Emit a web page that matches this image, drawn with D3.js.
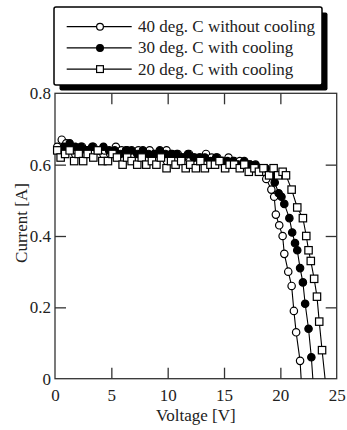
<!DOCTYPE html>
<html>
<head>
    <meta charset="utf-8">
    <script src="https://cdn.jsdelivr.net/npm/d3@7"></script>
    <style>
        body { margin: 0; background: #fff; }
        .chart text { font-family: "Liberation Serif", "Times New Roman", serif; font-size: 17px; fill: #222; }
        .axis path { display: none; }
        .axis line { stroke: #333; stroke-width: 1.3; }
    </style>
</head>
<body>
<svg class="chart"></svg>
<script>
    // 40 deg. C without cooling (open circles)
    var v40 = [0.2, 0.6, 1.0, 1.4, 1.9, 2.4, 2.9, 3.4, 3.9, 4.4, 4.9, 5.4, 5.9, 6.4, 6.9, 7.4, 7.9, 8.4, 8.9, 9.4,
        9.9, 10.4, 10.9, 11.4, 11.9, 12.4, 12.9, 13.4, 13.9, 14.4, 14.9, 15.4, 15.9, 16.4, 16.9, 17.3, 17.7, 18.1, 18.5, 18.75,
        19.2, 19.45, 19.6, 19.9, 20.2, 20.35, 20.7, 21.0, 21.2, 21.4, 21.75, 21.9];
    var i40 = [0.65, 0.67, 0.66, 0.65, 0.64, 0.65, 0.64, 0.65, 0.64, 0.64, 0.63, 0.65, 0.64, 0.64, 0.63, 0.64, 0.63, 0.64, 0.63, 0.63,
        0.64, 0.63, 0.63, 0.62, 0.63, 0.62, 0.62, 0.63, 0.62, 0.62, 0.61, 0.62, 0.61, 0.61, 0.60, 0.60, 0.59, 0.59, 0.58, 0.56,
        0.53, 0.51, 0.46, 0.43, 0.40, 0.35, 0.30, 0.26, 0.19, 0.13, 0.05, -0.03];

    // 30 deg. C with cooling (filled circles)
    var v30 = [0.3, 0.8, 1.3, 1.8, 2.3, 2.8, 3.3, 3.8, 4.3, 4.8, 5.3, 5.8, 6.3, 6.8, 7.3, 7.8, 8.3, 8.8, 9.3, 9.8,
        10.3, 10.8, 11.3, 11.8, 12.3, 12.8, 13.3, 13.8, 14.3, 14.8, 15.3, 15.8, 16.3, 16.8, 17.3, 17.8, 18.3, 18.7, 19.2, 19.5,
        19.85, 20.1, 20.35, 20.8, 21.05, 21.3, 21.5, 21.75, 22.0, 22.2, 22.5, 22.75, 22.95];
    var i30 = [0.64, 0.65, 0.66, 0.65, 0.65, 0.64, 0.65, 0.64, 0.65, 0.64, 0.64, 0.63, 0.64, 0.64, 0.63, 0.64, 0.63, 0.63, 0.64, 0.63,
        0.63, 0.63, 0.62, 0.63, 0.62, 0.62, 0.62, 0.61, 0.62, 0.61, 0.61, 0.61, 0.60, 0.61, 0.60, 0.60, 0.59, 0.59, 0.57, 0.55,
        0.52, 0.51, 0.49, 0.45, 0.41, 0.38, 0.36, 0.31, 0.27, 0.21, 0.14, 0.06, -0.03];

    // 20 deg. C with cooling (open squares)
    var v20 = [0.2, 0.5, 0.9, 1.3, 1.7, 2.1, 2.5, 2.9, 3.4, 3.8, 4.2, 4.7, 5.1, 5.5, 6.0, 6.4, 6.8, 7.3, 7.7, 8.1,
        8.6, 9.0, 9.4, 9.9, 10.3, 10.7, 11.2, 11.6, 12.0, 12.5, 12.9, 13.3, 13.8, 14.2, 14.6, 15.1, 15.5, 15.9, 16.4, 16.8,
        17.2, 17.7, 18.1, 18.5, 19.0, 19.4, 19.8, 20.2, 20.5, 21.0, 21.5, 22.0, 22.3, 22.5, 22.7, 23.0, 23.25, 23.45, 23.7, 24.1];
    var i20 = [0.64, 0.62, 0.63, 0.64, 0.61, 0.63, 0.61, 0.63, 0.62, 0.64, 0.61, 0.61, 0.63, 0.62, 0.60, 0.62, 0.61, 0.60, 0.62, 0.60,
        0.61, 0.60, 0.62, 0.59, 0.61, 0.60, 0.61, 0.59, 0.60, 0.59, 0.61, 0.59, 0.60, 0.60, 0.61, 0.59, 0.60, 0.60, 0.59, 0.60,
        0.58, 0.59, 0.58, 0.59, 0.57, 0.59, 0.57, 0.58, 0.57, 0.53, 0.48, 0.45, 0.40, 0.36, 0.33, 0.28, 0.23, 0.16, 0.08, -0.04];

    var seriesNames = ["40 deg. C without cooling", "30 deg. C with cooling", "20 deg. C with cooling"];
    var xTicks = [0, 5, 10, 15, 20, 25];
    var yTicks = [0, 0.2, 0.4, 0.6, 0.8];

    var width = 347, height = 430;
    var plotLeft = 55, plotRight = 336.7, plotTop = 93.3, plotBottom = 378.7;
    var tickLen = 11;
    var markR = 3.7;

    var series = [
        { name: seriesNames[0], v: v40, i: i40, shape: "circle", fill: "#fff" },
        { name: seriesNames[1], v: v30, i: i30, shape: "circle", fill: "#000" },
        { name: seriesNames[2], v: v20, i: i20, shape: "square", fill: "#fff" }
    ];

    var x = d3.scaleLinear().domain([0, 25]).range([plotLeft, plotRight]);
    var y = d3.scaleLinear().domain([0, 0.8]).range([plotBottom, plotTop]);

    var chart = d3.select(".chart").attr("width", width).attr("height", height);

    chart.append("defs").append("clipPath").attr("id", "clip")
        .append("rect").attr("x", 0).attr("y", 0).attr("width", width).attr("height", plotBottom);

    // axes, ticks pointing inward
    chart.append("g").attr("class", "axis")
        .attr("transform", "translate(0," + plotBottom + ")")
        .call(d3.axisBottom(x).tickValues(xTicks).tickSize(-tickLen).tickPadding(10).tickFormat(d3.format("d")))
        .selectAll("line").filter(function(d) { return d === 0 || d === 25; }).remove();
    chart.append("g").attr("class", "axis")
        .attr("transform", "translate(0," + plotTop + ")")
        .call(d3.axisTop(x).tickValues([5, 10, 15, 20]).tickSize(-tickLen).tickFormat(""));
    chart.append("g").attr("class", "axis")
        .attr("transform", "translate(" + plotLeft + ",0)")
        .call(d3.axisLeft(y).tickValues(yTicks).tickSize(-tickLen).tickPadding(4)
            .tickFormat(function(d) { return d === 0 ? "0" : d3.format(".1f")(d); }))
        .selectAll("line").filter(function(d) { return d === 0 || d === 0.8; }).remove();
    chart.append("g").attr("class", "axis")
        .attr("transform", "translate(" + plotRight + ",0)")
        .call(d3.axisRight(y).tickValues([0.2, 0.4, 0.6]).tickSize(-tickLen).tickFormat(""));

    chart.append("rect")
        .attr("x", plotLeft).attr("y", plotTop)
        .attr("width", plotRight - plotLeft).attr("height", plotBottom - plotTop)
        .attr("fill", "none").attr("stroke", "#333").attr("stroke-width", 1.3);

    // data
    var plot = chart.append("g").attr("clip-path", "url(#clip)");
    var line = d3.line()
        .x(function(d) { return x(d[0]); })
        .y(function(d) { return y(d[1]); });

    series.forEach(function(s) {
        var pts = s.v.map(function(v, k) { return [v, s.i[k]]; });
        var g = plot.append("g");
        g.append("path").datum(pts).attr("d", line)
            .attr("fill", "none").attr("stroke", "#000").attr("stroke-width", 1.1);
        if (s.shape === "circle") {
            g.selectAll("circle").data(pts).enter().append("circle")
                .attr("cx", function(d) { return x(d[0]); })
                .attr("cy", function(d) { return y(d[1]); })
                .attr("r", markR)
                .attr("fill", s.fill).attr("stroke", "#000").attr("stroke-width", 1.2);
        } else {
            g.selectAll("rect").data(pts).enter().append("rect")
                .attr("x", function(d) { return x(d[0]) - markR; })
                .attr("y", function(d) { return y(d[1]) - markR; })
                .attr("width", 2 * markR).attr("height", 2 * markR)
                .attr("fill", s.fill).attr("stroke", "#000").attr("stroke-width", 1.2);
        }
    });

    // axis titles
    chart.append("text")
        .attr("x", (plotLeft + plotRight) / 2).attr("y", 421)
        .attr("text-anchor", "middle")
        .text("Voltage [V]");
    chart.append("text")
        .attr("transform", "translate(27," + 223 + ") rotate(-90)")
        .attr("text-anchor", "middle")
        .text("Current [A]");

    // legend with drop shadow
    var legend = chart.append("g");
    var lx = 54, ly = 7, lw = 268, lh = 78;
    legend.append("rect").attr("x", lx + 5.5).attr("y", ly + 5.5)
        .attr("width", lw).attr("height", lh).attr("rx", 2).attr("fill", "#000");
    legend.append("rect").attr("x", lx).attr("y", ly)
        .attr("width", lw).attr("height", lh).attr("rx", 2)
        .attr("fill", "#fff").attr("stroke", "#000").attr("stroke-width", 1.5);

    series.forEach(function(s, k) {
        var ry = 26.7 + k * 21.2;
        legend.append("line").attr("x1", 66.7).attr("x2", 131.7).attr("y1", ry).attr("y2", ry)
            .attr("stroke", "#000").attr("stroke-width", 1.2);
        if (s.shape === "circle") {
            legend.append("circle").attr("cx", 100).attr("cy", ry).attr("r", 3.4)
                .attr("fill", s.fill).attr("stroke", "#000").attr("stroke-width", 1.2);
        } else {
            legend.append("rect").attr("x", 100 - 3.4).attr("y", ry - 3.4).attr("width", 6.8).attr("height", 6.8)
                .attr("fill", s.fill).attr("stroke", "#000").attr("stroke-width", 1.2);
        }
        legend.append("text").attr("x", 138).attr("y", ry + 5.5).text(s.name);
    });
</script>
</body>
</html>
